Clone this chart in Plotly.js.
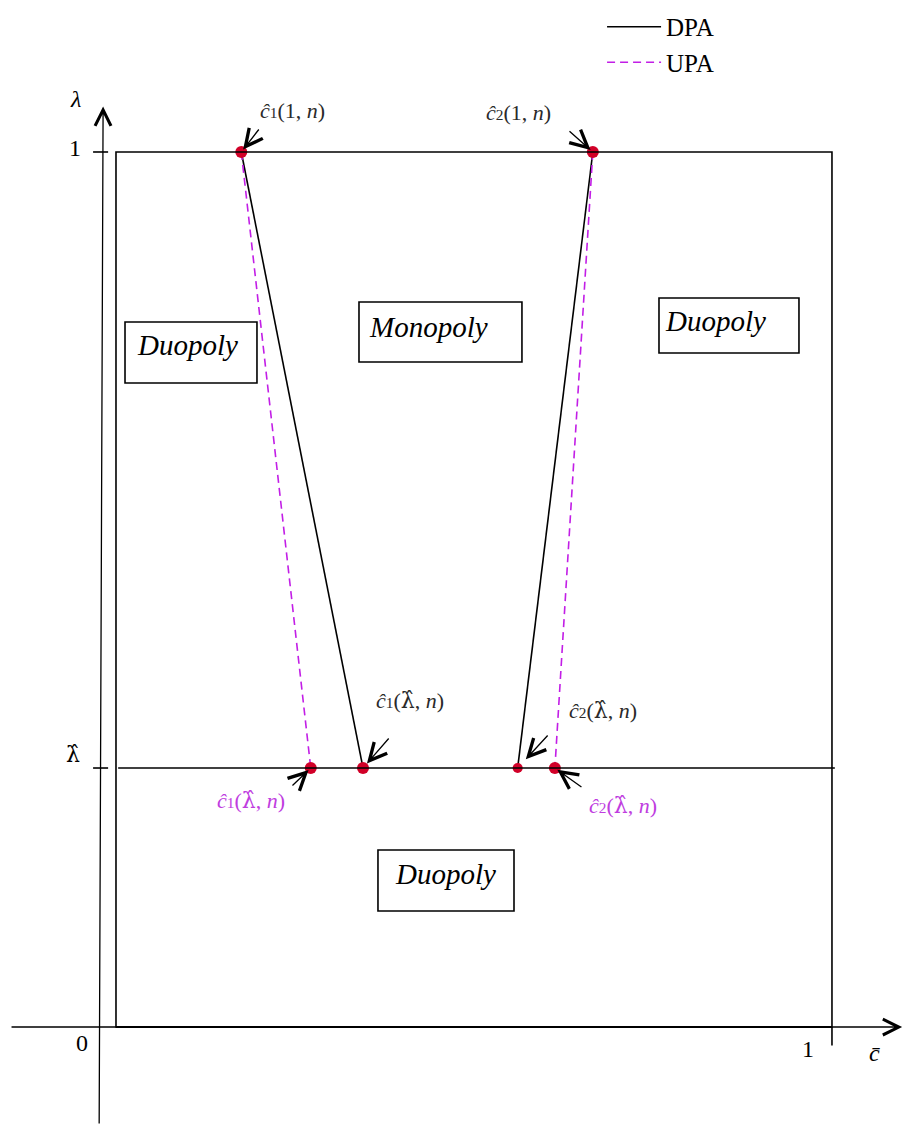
<!DOCTYPE html>
<html>
<head>
<meta charset="utf-8">
<script src="https://cdn.plot.ly/plotly-3.0.1.min.js"></script>
<style>
  html, body { margin: 0; padding: 0; background: #ffffff; }
  #chart { width: 904px; height: 1128px; }
</style>
</head>
<body>
<div id="chart"></div>
<script>
// Threshold on lambda where the regimes change
const lambdaHat = 0.296;

// lambda levels at which the thresholds are evaluated: [1, lambdaHat]
const lambdaLevels = [1, lambdaHat];

// Cost thresholds c-hat under DPA (solid) and UPA (dashed)
const dpaC1 = [0.175, 0.345];
const dpaC2 = [0.666, 0.561];
const upaC1 = [0.175, 0.272];
const upaC2 = [0.666, 0.613];

// Region names
const regionNames = ['Duopoly', 'Monopoly', 'Duopoly', 'Duopoly'];

// Series names
const seriesNames = ['DPA', 'UPA'];

const SERIF = 'Liberation Serif, Times New Roman, serif';
const BLACK = '#000000';
const VIOLET = '#c21ee6';
const VIOLET_TEXT = '#c03ddf';
const RED = '#d10028';

// Solid DPA boundaries (two segments separated by a gap)
const dpaTrace = {
  x: [dpaC1[0], dpaC1[1], null, dpaC2[0], dpaC2[1]],
  y: [lambdaLevels[0], lambdaLevels[1], null, lambdaLevels[0], lambdaLevels[1]],
  mode: 'lines',
  name: seriesNames[0],
  line: { color: BLACK, width: 1.6 },
  hoverinfo: 'skip'
};

// Dashed UPA boundaries
const upaTrace = {
  x: [upaC1[0], upaC1[1], null, upaC2[0], upaC2[1]],
  y: [lambdaLevels[0], lambdaLevels[1], null, lambdaLevels[0], lambdaLevels[1]],
  mode: 'lines',
  name: seriesNames[1],
  line: { color: VIOLET, width: 1.6, dash: '8px,5px' },
  hoverinfo: 'skip'
};

// Threshold points
const pointX = [dpaC1[0], dpaC2[0], upaC1[1], dpaC1[1], dpaC2[1], upaC2[1]];
const pointY = [lambdaLevels[0], lambdaLevels[0], lambdaLevels[1], lambdaLevels[1], lambdaLevels[1], lambdaLevels[1]];
const pointTrace = {
  x: pointX,
  y: pointY,
  mode: 'markers',
  showlegend: false,
  marker: { color: RED, size: [12, 12, 12, 12, 10, 12], opacity: 1, line: { width: 0 } },
  hoverinfo: 'skip'
};

// Math-style labels
const hatLam = '<span style="font-family:DejaVu Serif">&#955;&#770;</span>';
const hat1 = '<i>c&#770;</i><span style="font-size:70%">1</span>';
const hat2 = '<i>c&#770;</i><span style="font-size:70%">2</span>';
const lbl = (c, arg) => c + '(' + arg + ', <i>n</i>)';

function pointer(x, y, ax, ay, standoff) {
  return {
    x: x, y: y, ax: ax, ay: ay, xref: 'x', yref: 'y', axref: 'x', ayref: 'y',
    text: '', showarrow: true, arrowhead: 5, arrowsize: 2.6, arrowwidth: 1.3,
    arrowcolor: BLACK, standoff: standoff || 0
  };
}

function label(x, y, text, color, size) {
  return {
    x: x, y: y, xref: 'x', yref: 'y', text: text, showarrow: false,
    font: { family: SERIF, size: size || 22, color: color || '#2a2a2a' }
  };
}

function regionLabel(x, y, text) {
  return {
    x: x, y: y, xref: 'x', yref: 'y', text: '<i>' + text + '</i>', showarrow: false,
    font: { family: SERIF, size: 29, color: BLACK }
  };
}

const annotations = [
  // coordinate axes with arrow tips
  { x: 1.098, y: 0, ax: -0.148, ay: 0, xref: 'x', yref: 'y', axref: 'x', ayref: 'y',
    text: '', showarrow: true, arrowhead: 5, arrowsize: 2.4, arrowwidth: 1.3, arrowcolor: BLACK },
  { x: -0.018, y: 1.052, ax: -0.0235, ay: -0.112, xref: 'x', yref: 'y', axref: 'x', ayref: 'y',
    text: '', showarrow: true, arrowhead: 5, arrowsize: 2.4, arrowwidth: 1.3, arrowcolor: BLACK },

  // axis texts
  label(-0.057, 1.061, '<i>&#955;</i>', BLACK, 24),
  label(-0.057, 1.005, '1', BLACK, 24),
  label(-0.060, 0.312, hatLam, BLACK, 22),
  label(-0.047, -0.018, '0', BLACK, 24),
  label(0.966, -0.025, '1', BLACK, 24),
  label(1.060, -0.030, '<i>c&#772;</i>', BLACK, 24),

  // pointers to the threshold points
  pointer(dpaC1[0], lambdaLevels[0], 0.2011, 1.0274, 3),
  pointer(dpaC2[0], lambdaLevels[0], 0.6313, 1.0251, 3),
  pointer(dpaC1[1], lambdaLevels[1], 0.3827, 0.3314, 6),
  pointer(upaC1[1], lambdaLevels[1], 0.2444, 0.2743, 3),
  pointer(dpaC2[1], lambdaLevels[1], 0.6048, 0.3349, 12),
  pointer(upaC2[1], lambdaLevels[1], 0.6522, 0.2731, 3),

  // point labels
  label(0.2472, 1.0469, lbl(hat1, '1')),
  label(0.5628, 1.0446, lbl(hat2, '1')),
  label(0.4106, 0.3737, lbl(hat1, hatLam)),
  label(0.6802, 0.3623, lbl(hat2, hatLam)),
  label(0.1885, 0.2594, lbl(hat1, hatLam), VIOLET_TEXT),
  label(0.7081, 0.2526, lbl(hat2, hatLam), VIOLET_TEXT),

  // region names
  regionLabel(0.1000, 0.7790, regionNames[0]),
  regionLabel(0.4360, 0.8000, regionNames[1]),
  regionLabel(0.8370, 0.8069, regionNames[2]),
  regionLabel(0.4600, 0.1749, regionNames[3])
];

const frameLine = { color: BLACK, width: 1.6 };
const shapes = [
  // unit square
  { type: 'rect', xref: 'x', yref: 'y', x0: 0, x1: 1, y0: 0, y1: 1, line: frameLine },
  // bottom edge drawn over the axis
  { type: 'line', xref: 'x', yref: 'y', x0: 0, x1: 1, y0: 0, y1: 0, line: { color: BLACK, width: 2.2 } },
  // tick on the c axis at 1
  { type: 'line', xref: 'x', yref: 'y', x0: 1, x1: 1, y0: 0, y1: -0.021, line: frameLine },
  // lambda-hat level
  { type: 'line', xref: 'x', yref: 'y', x0: 0.003, x1: 1.004, y0: lambdaHat, y1: lambdaHat, line: frameLine },
  // ticks on the lambda axis
  { type: 'line', xref: 'x', yref: 'y', x0: -0.032, x1: -0.011, y0: 1, y1: 1, line: frameLine },
  { type: 'line', xref: 'x', yref: 'y', x0: -0.032, x1: -0.011, y0: lambdaHat, y1: lambdaHat, line: frameLine },
  // boxes around the region names
  { type: 'rect', xref: 'x', yref: 'y', x0: 0.0126, x1: 0.1969, y0: 0.7360, y1: 0.8057, line: frameLine },
  { type: 'rect', xref: 'x', yref: 'y', x0: 0.3394, x1: 0.5670, y0: 0.7600, y1: 0.8286, line: frameLine },
  { type: 'rect', xref: 'x', yref: 'y', x0: 0.7584, x1: 0.9539, y0: 0.7703, y1: 0.8331, line: frameLine },
  { type: 'rect', xref: 'x', yref: 'y', x0: 0.3659, x1: 0.5559, y0: 0.1326, y1: 0.2023, line: frameLine }
];

const layout = {
  width: 904,
  height: 1128,
  margin: { l: 0, r: 0, t: 0, b: 0 },
  paper_bgcolor: '#ffffff',
  plot_bgcolor: '#ffffff',
  xaxis: { range: [-0.162, 1.1006], visible: false, fixedrange: true },
  yaxis: { range: [-0.1154, 1.1737], visible: false, fixedrange: true },
  showlegend: true,
  legend: {
    x: 0.666, y: 0.9965, xanchor: 'left', yanchor: 'top',
    bgcolor: 'rgba(0,0,0,0)', borderwidth: 0,
    itemwidth: 54,
    font: { family: SERIF, size: 25, color: BLACK }
  },
  shapes: shapes,
  annotations: annotations
};

Plotly.newPlot('chart', [dpaTrace, upaTrace, pointTrace], layout, { displayModeBar: false, staticPlot: true });
</script>
</body>
</html>
